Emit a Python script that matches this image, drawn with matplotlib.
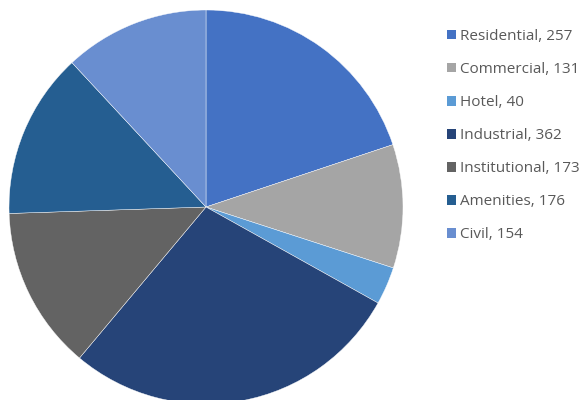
import matplotlib
matplotlib.use("Agg")
import matplotlib.pyplot as plt
from matplotlib.patches import Patch

categories = ["Residential", "Commercial", "Hotel", "Industrial", "Institutional", "Amenities", "Civil"]
values = [257, 131, 40, 362, 173, 176, 154]
colors = ["#4472C4", "#A5A5A5", "#5B9BD5", "#264478", "#636363", "#255E91", "#698ED0"]
labels = [f"{c}, {v}" for c, v in zip(categories, values)]

plt.rcParams['font.family'] = ['Open Sans', 'DejaVu Sans']

fig = plt.figure(figsize=(5.84, 4.0), dpi=100)
ax = fig.add_axes([0, 0, 1, 1])

wedges, _ = ax.pie(values, colors=colors, startangle=90, counterclock=False,
                   center=(206, 400 - 207), radius=197, frame=True,
                   wedgeprops=dict(edgecolor='white', linewidth=0.3))
ax.set_xlim(0, 584)
ax.set_ylim(0, 400)
ax.axis('off')

handles = [Patch(facecolor=c, edgecolor='none') for c in colors]
leg = ax.legend(handles, labels, loc='upper left', bbox_to_anchor=(447 / 584, 1 - 29 / 400),
                bbox_transform=fig.transFigure, frameon=False, fontsize=11,
                handlelength=0.6, handleheight=0.6, handletextpad=0.25,
                labelspacing=1.18, borderpad=0, borderaxespad=0)
for t in leg.get_texts():
    t.set_color('#595959')

fig.savefig("out.png", dpi=100)
